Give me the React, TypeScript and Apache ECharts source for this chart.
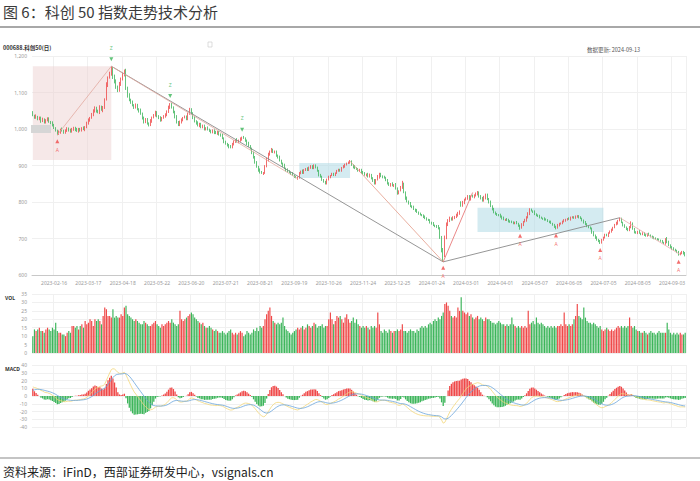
import React, { useEffect, useRef } from 'react';
import * as echarts from 'echarts';

const TITLE = '图 6：科创 50 指数走势技术分析';
const SOURCE = '资料来源：iFinD，西部证券研发中心，vsignals.cn';
const SYMBOL_NAME = '000688.科创50(日)';
const UPDATE_TEXT = '数据更新: 2024-09-13';

const START_DATE = '2023-01-30';
const HOLIDAYS = ['2023-04-05','2023-05-01','2023-05-02','2023-05-03','2023-06-22','2023-06-23','2023-09-29','2023-10-02','2023-10-03','2023-10-04','2023-10-05','2023-10-06','2024-01-01','2024-02-09','2024-02-12','2024-02-13','2024-02-14','2024-02-15','2024-02-16','2024-04-04','2024-04-05','2024-05-01','2024-05-02','2024-05-03','2024-06-10'];

const tickLabels = ['2023-02-16','2023-03-17','2023-04-18','2023-05-22','2023-06-20','2023-07-21','2023-08-21','2023-09-19','2023-10-26','2023-11-24','2023-12-25','2024-01-24','2024-03-01','2024-04-01','2024-05-07','2024-06-05','2024-07-05','2024-08-05','2024-09-03'];

const closes = [
1038,1032,1035,1028,1030,1022,1026,1019,1024,1028,
1021,1016,1010,1004,996,988,992,998,995,990,
996,1001,997,993,999,1003,998,994,1000,997,
1002,999,1006,1015,1025,1030,1038,1050,1057,1048,
1046,1060,1052,1057,1079,1120,1138,1152,1166,1142,
1130,1116,1108,1122,1136,1148,1158,1112,1092,1080,
1072,1066,1060,1064,1055,1050,1042,1030,1020,1025,
1016,1012,1022,1030,1038,1044,1036,1030,1025,1030,
1034,1038,1048,1058,1066,1060,1046,1033,1020,1012,
1018,1025,1030,1033,1028,1040,1052,1044,1030,1022,
1016,1010,1014,1005,1008,1000,1003,998,995,992,
996,990,988,992,986,984,975,965,960,956,
952,951,958,966,970,965,968,972,976,975,
968,960,954,948,936,923,910,898,888,884,
882,879,896,915,930,937,942,938,937,928,
922,915,906,900,893,888,884,882,878,874,
870,868,866,879,884,880,887,891,889,893,
898,894,899,896,886,874,870,862,856,852,
860,869,872,876,874,879,884,888,886,893,
898,901,906,908,910,902,896,893,890,886,
888,882,878,874,876,871,874,866,858,852,
860,868,876,872,868,866,860,852,847,850,
846,847,838,825,830,840,852,828,811,803,
796,790,786,781,777,773,769,766,764,760,
756,753,751,745,741,737,735,732,729,705,
672,652,700,738,748,756,752,757,759,764,
768,773,790,798,805,810,814,808,815,814,
818,822,825,816,810,805,812,819,808,800,
790,780,773,768,766,764,760,756,753,752,
751,748,746,745,743,744,742,736,729,738,
745,750,756,768,778,776,773,768,764,762,
758,756,754,752,751,748,745,742,738,733,
729,736,740,742,746,749,751,754,753,756,
758,757,759,761,757,756,750,745,740,735,
731,729,718,710,704,698,694,690,695,702,
710,708,714,718,724,730,737,742,748,753,
745,737,732,727,723,730,742,728,718,716,
719,715,712,714,710,708,712,710,706,703,
701,699,698,696,694,690,688,698,690,683,
677,673,670,668,664,658,660,663,659,655];

const opens = [
1045,1036,1030,1034,1027,1031,1021,1027,1018,1023,
1029,1020,1017,1011,1003,995,987,991,999,996,
989,995,1002,998,992,998,1004,999,993,1001,
996,1003,998,1005,1014,1024,1031,1037,1049,1058,
1049,1045,1061,1051,1058,1082,1118,1140,1150,1163,
1143,1131,1115,1106,1121,1137,1147,1155,1110,1093,
1079,1073,1065,1059,1065,1054,1051,1041,1031,1019,
1026,1015,1011,1021,1031,1037,1045,1035,1031,1024,
1031,1033,1039,1047,1057,1067,1059,1045,1034,1019,
1011,1019,1024,1031,1034,1027,1041,1053,1043,1031,
1021,1017,1009,1015,1004,1009,999,1004,997,996,
991,997,991,987,993,985,983,974,966,959,
957,953,950,957,965,971,964,967,971,977,
974,969,961,953,947,935,922,909,897,889,
883,878,880,897,914,929,938,943,936,938,
927,923,914,905,901,892,889,883,881,879,
873,869,865,867,880,885,879,888,892,888,
894,899,893,900,895,885,873,869,861,855,
851,861,868,873,877,873,880,885,889,885,
894,897,902,907,907,911,901,897,892,891,
885,889,881,879,873,877,870,875,865,859,
851,861,867,877,871,869,865,861,851,846,
851,845,848,837,824,831,839,850,827,812,
802,797,789,787,780,778,772,768,765,763,
761,755,752,750,744,742,736,734,733,728,
703,668,655,702,737,749,755,751,756,758,
763,767,796,791,797,806,809,815,807,816,
813,817,821,826,815,811,804,811,820,807,
801,789,781,772,767,765,765,761,757,751,
753,752,747,747,744,742,745,741,735,730,
737,746,749,757,767,779,775,774,767,763,
763,757,755,755,753,750,747,746,741,737,
732,730,735,741,741,747,748,752,755,752,
757,759,756,760,762,758,755,749,746,739,
734,730,728,717,709,703,697,693,689,696,
703,711,707,715,719,723,731,738,741,749,
754,744,736,731,726,722,731,741,727,717,
715,720,714,711,715,709,707,713,709,705,
704,700,699,697,695,693,689,687,699,691,
682,676,674,669,667,663,657,659,664,660];

const upperWick = [
4,3,5,2,4,3,5,2,3,4, 3,2,4,3,2,3,4,3,5,2, 3,4,2,3,4,3,2,4,3,2, 3,4,2,5,4,3,6,4,5,3,
4,5,3,6,5,8,6,5,6,7, 6,5,4,7,5,6,5,10,6,5, 4,5,3,6,4,3,5,4,3,5, 4,3,5,4,3,6,4,3,4,3,
4,5,3,6,5,4,3,5,4,3, 5,4,3,4,3,5,6,4,3,4, 3,4,3,2,4,3,2,3,4,2, 3,2,4,3,2,3,4,3,2,3,
2,3,4,3,2,4,3,5,3,4, 3,2,4,3,2,3,4,3,2,3, 2,3,5,6,5,4,6,3,4,3, 3,4,2,3,4,2,3,4,2,3,
2,3,4,3,2,4,3,2,3,4, 3,2,4,3,2,3,4,3,2,3, 4,3,2,4,3,2,4,3,2,3, 3,4,2,3,5,3,2,4,3,2,
3,2,4,3,2,3,4,2,3,4, 3,6,4,3,2,3,4,2,3,2, 3,2,4,3,2,4,6,3,2,3, 2,3,2,3,2,3,2,3,2,3,
2,3,2,3,2,3,2,3,4,3, 4,6,8,6,5,4,3,4,3,4, 5,4,6,5,4,3,5,4,3,4, 3,4,5,3,4,3,5,4,3,4,
3,2,3,2,3,2,3,2,3,2, 3,2,3,2,3,2,3,2,3,4, 3,4,5,4,5,3,2,3,2,3, 2,3,2,3,2,3,2,3,2,3,
3,4,3,2,3,4,3,2,3,4, 3,2,4,3,2,3,2,3,2,3, 2,3,2,3,2,3,2,3,4,3, 3,2,3,4,3,2,3,4,3,4,
3,2,3,2,3,4,5,3,2,3, 2,3,2,3,2,3,2,3,2,3, 2,3,2,3,2,3,2,3,5,3, 2,3,2,3,2,3,2,3,2,3];

const lowerWick = [
3,4,2,4,3,5,2,4,3,2, 4,3,3,4,3,5,3,4,2,3, 2,3,4,3,2,3,4,2,3,4, 3,2,4,3,2,4,3,2,4,3,
3,4,2,5,3,4,3,2,4,5, 5,6,7,4,3,4,3,5,6,4, 3,4,5,3,4,5,3,4,5,3, 4,5,3,4,2,3,4,3,5,3,
3,2,4,3,2,4,3,4,5,4, 3,4,3,2,4,3,2,4,3,4, 4,3,4,3,2,4,3,2,3,4, 3,4,2,3,4,5,3,4,3,4,
5,4,3,2,3,2,3,2,3,2, 3,4,3,4,5,4,5,4,5,6, 5,4,3,2,3,2,3,4,3,4, 3,4,3,4,3,4,3,3,4,3,
4,3,4,3,4,3,2,3,4,3, 3,4,3,4,3,4,3,4,3,4, 3,2,3,2,3,2,3,2,3,2, 2,3,2,3,2,3,4,3,2,3,
3,4,3,2,3,4,3,4,3,4, 3,2,3,4,3,2,3,4,3,4, 3,4,4,5,3,2,3,4,5,4, 3,4,3,3,4,3,4,3,3,4,
3,4,3,4,3,3,4,3,4,6, 10,16,6,4,3,4,3,2,3,2, 3,2,3,4,3,2,3,4,3,2, 3,2,3,4,3,4,3,4,3,4,
4,3,4,3,4,3,3,4,3,3, 3,4,3,3,4,3,3,4,5,3, 3,2,3,2,3,2,3,4,3,3, 3,2,3,3,2,3,3,2,3,4,
4,3,2,3,2,3,2,3,2,3, 2,3,2,3,2,3,3,4,3,4, 3,4,5,4,5,4,4,5,3,2, 3,2,3,2,3,2,3,2,3,2,
3,4,3,4,3,2,3,4,4,3, 3,2,3,2,3,3,2,3,3,3, 3,2,3,2,3,2,3,4,3,4, 3,4,3,3,4,5,3,2,3,4];

const volumes = [
10,14,13,14,15,13,13,12,14,15, 14,13,15,14,18,13,12,12,11,11, 10,12,13,12,16,16,15,16,14,16, 17,15,19,17,18,20,19,16,20,19,
20,19,17,22,27,26,22,22,21,26, 21,22,21,21,23,22,27,28,23,22, 21,20,19,20,19,18,17,17,19,18, 17,16,16,17,18,19,17,16,15,17,
16,17,18,19,18,20,18,17,16,17, 25,20,19,20,21,22,23,24,23,21, 20,19,18,17,18,16,15,15,16,15, 14,13,14,13,12,12,13,12,11,12,
13,14,12,11,12,11,12,13,12,10, 11,13,12,11,12,14,13,15,13,16, 15,16,20,23,25,27,22,19,18,17, 18,17,18,21,16,14,13,12,11,12,
13,14,15,14,15,16,14,15,17,16, 15,16,18,17,15,16,16,17,15,16, 16,20,24,20,17,19,22,21,22,20, 18,21,23,20,18,19,21,18,20,17,
16,15,16,15,16,15,14,16,15,16, 15,24,17,13,12,14,13,12,14,13, 12,13,13,14,13,14,17,13,13,12, 13,14,13,13,12,14,13,15,16,15,
16,15,17,18,17,19,20,19,21,20, 22,24,29,30,28,25,22,21,22,21, 27,25,33,25,24,23,24,22,23,21, 20,21,22,20,21,20,19,21,20,20,
19,18,18,17,18,19,18,17,17,16, 17,16,17,21,17,16,15,16,15,16, 15,16,15,25,17,18,19,17,21,18, 17,18,17,16,15,16,15,16,15,16,
15,16,16,17,16,24,17,16,17,16, 17,20,22,29,22,21,20,27,21,19, 18,18,17,18,17,16,15,16,14,13, 14,15,14,13,14,13,14,15,16,15,
16,15,16,15,16,21,16,15,16,14, 13,13,12,12,13,12,11,12,13,12, 12,11,12,13,12,12,12,12,18,14, 12,11,12,11,12,11,12,11,11,12];

// signal markers (indices into the trading-day list)
const lowSignalIdx = [15, 251, 298, 320, 347, 395];
const highSignalIdx = [48, 84, 128];

// trend / swing lines: [index, price]
const grayLineA = [[48, 1172], [251, 636]];
const grayLineB = [[251, 636], [359, 757]];
const swingUp1 = [[15, 984], [48, 1172]];
const swingDown1 = [[48, 1172], [162, 864]];
const swingDown2 = [[194, 912], [251, 636]];
const swingUp2 = [[251, 636], [269, 826]];
const swingDown3 = [[359, 757], [396, 656]];

// boxes: [startIdx, low, endIdx, high]
const pinkBox = [0, 915, 48, 1172];
const blueBox1 = [163, 866, 194, 907];
const blueBox2 = [272, 718, 349, 784];

// left-edge price tag level
const priceTagLevel = 1000;

// MACD seeds (state of the EMAs before the first plotted day)
const EMA12_SEED = 1030;
const EMA26_SEED = 1018;
const DEA_SEED = 6;

const RED = '#ef4848';
const GREEN = '#3cb55a';

function buildTradingDays(start: string, count: number, holidays: string[]) {
  const out: string[] = [];
  const d = new Date(start + 'T00:00:00Z');
  while (out.length < count) {
    const day = d.getUTCDay();
    const s = d.toISOString().slice(0, 10);
    if (day !== 0 && day !== 6 && holidays.indexOf(s) < 0) out.push(s);
    d.setUTCDate(d.getUTCDate() + 1);
  }
  return out;
}

export default function App() {
  const ref = useRef<HTMLDivElement>(null);
  useEffect(() => {
    const el = ref.current!;
    const chart = echarts.init(el, null, { renderer: 'svg', width: 700, height: 481 });
    const n = closes.length;
    const dates = buildTradingDays(START_DATE, n, HOLIDAYS);
    const highs = closes.map((c, i) => Math.max(c, opens[i]) + upperWick[i]);
    const lows = closes.map((c, i) => Math.min(c, opens[i]) - lowerWick[i]);
    const kData = closes.map((c, i) => [opens[i], c, lows[i], highs[i]]);
    const isUp = closes.map((c, i) => c >= opens[i]);
    const volData = volumes.map((v, i) => ({ value: v, itemStyle: { color: isUp[i] ? RED : GREEN } }));

    let e12 = EMA12_SEED, e26 = EMA26_SEED, dea = DEA_SEED;
    const difs: number[] = [], deas: number[] = [], hist: any[] = [];
    closes.forEach((c) => {
      e12 = e12 * 11 / 13 + c * 2 / 13;
      e26 = e26 * 25 / 27 + c * 2 / 27;
      const dif = e12 - e26;
      dea = dea * 0.8 + dif * 0.2;
      difs.push(+dif.toFixed(2));
      deas.push(+dea.toFixed(2));
      const h = 2 * (dif - dea);
      hist.push({ value: +h.toFixed(2), itemStyle: { color: h >= 0 ? RED : GREEN } });
    });

    const showTick = (_i: number, v: string) => tickLabels.indexOf(v) >= 0;
    const gridLine = { lineStyle: { color: '#f0f0f0', width: 1 } };
    const axisFont = { fontSize: 5, color: '#9a9a9a', fontFamily: 'Noto Sans' };

    const xBase = (gi: number, labels: boolean) => ({
      type: 'category', gridIndex: gi, data: dates, boundaryGap: true,
      axisLine: { show: labels, lineStyle: { color: '#c8c8c8' } },
      axisTick: { show: false },
      axisLabel: labels ? { ...axisFont, interval: showTick, margin: 5 } : { show: false },
      splitLine: { show: true, interval: showTick, ...gridLine },
    });
    const yBase = (gi: number, min: number, max: number, interval: number, fmt?: any) => ({
      type: 'value', gridIndex: gi, min, max, interval, scale: false,
      axisLine: { show: false }, axisTick: { show: false },
      axisLabel: { ...axisFont, margin: 5, formatter: fmt },
      splitLine: { show: true, ...gridLine },
    });

    const pt = (a: number[]) => [dates[a[0]], a[1]];
    const lineSeries = (pts: number[][], color: string, width = 0.8) => ({
      type: 'line', xAxisIndex: 0, yAxisIndex: 0, data: pts.map(pt), symbol: 'none',
      lineStyle: { color, width }, silent: true, z: 4,
    });
    const box = (b: number[], color: string) => [
      { xAxis: dates[b[0]], yAxis: b[1], itemStyle: { color } },
      { xAxis: dates[b[2]], yAxis: b[3] },
    ];

    const option: any = {
      animation: false,
      backgroundColor: '#ffffff',
      textStyle: { fontFamily: 'Noto Sans' },
      grid: [
        { left: 32, right: 14, top: 56, height: 219 },
        { left: 32, right: 14, top: 294, height: 59 },
        { left: 32, right: 14, top: 365, height: 62 },
      ],
      xAxis: [xBase(0, true), xBase(1, false), xBase(2, false)],
      yAxis: [
        yBase(0, 600, 1200, 100, (v: number) => v.toLocaleString('en-US')),
        yBase(1, 0, 35, 5),
        yBase(2, -40, 40, 10),
      ],
      series: [
        {
          type: 'candlestick', xAxisIndex: 0, yAxisIndex: 0, data: kData, barWidth: '72%',
          itemStyle: { color: RED, color0: GREEN, borderColor: RED, borderColor0: GREEN, borderWidth: 0.8 },
          markArea: {
            silent: true,
            data: [box(pinkBox, 'rgba(236,204,204,0.45)'), box(blueBox1, 'rgba(170,215,228,0.5)'), box(blueBox2, 'rgba(170,215,228,0.5)')],
          },
          markPoint: {
            silent: true,
            data: [{ coord: [dates[5], priceTagLevel], symbol: 'rect', symbolSize: [20, 8], itemStyle: { color: '#d6d6d6' }, label: { show: false } }],
          },
          z: 3,
        },
        lineSeries(grayLineA, '#8a8a8a', 0.9),
        lineSeries(grayLineB, '#8a8a8a', 0.9),
        lineSeries(swingUp1, '#e2aaa0'),
        lineSeries(swingDown1, '#e2aaa0'),
        lineSeries(swingDown2, '#e39a88'),
        lineSeries(swingUp2, '#e56a6a'),
        lineSeries(swingDown3, '#e8a8a8'),
        {
          type: 'scatter', xAxisIndex: 0, yAxisIndex: 0, silent: true, z: 6,
          data: lowSignalIdx.map((i) => [dates[i], lows[i]]),
          symbol: 'triangle', symbolSize: [4, 4], symbolOffset: [0, 6],
          itemStyle: { color: RED },
          label: { show: true, position: 'bottom', distance: 0, offset: [0, 4], formatter: 'A', fontSize: 5, color: RED },
        },
        {
          type: 'scatter', xAxisIndex: 0, yAxisIndex: 0, silent: true, z: 6,
          data: highSignalIdx.map((i) => [dates[i], highs[i]]),
          symbol: 'triangle', symbolRotate: 180, symbolSize: [4, 4], symbolOffset: [0, -7],
          itemStyle: { color: GREEN },
          label: { show: true, position: 'top', distance: 0, offset: [0, -7], formatter: 'Z', fontSize: 5, color: GREEN },
        },
        { type: 'bar', xAxisIndex: 1, yAxisIndex: 1, data: volData, barWidth: '72%', silent: true },
        { type: 'bar', xAxisIndex: 2, yAxisIndex: 2, data: hist, barWidth: '80%', silent: true },
        { type: 'line', xAxisIndex: 2, yAxisIndex: 2, data: difs, symbol: 'none', lineStyle: { color: '#f3d77a', width: 0.8 }, silent: true },
        { type: 'line', xAxisIndex: 2, yAxisIndex: 2, data: deas, symbol: 'none', lineStyle: { color: '#6aa5dc', width: 0.8 }, silent: true },
      ],
      graphic: [
        { type: 'text', left: 3, top: 4, style: { text: TITLE, fontSize: 15, fill: '#3a3a3a', fontFamily: 'Noto Sans CJK SC' } },
        { type: 'line', shape: { x1: 0, y1: 27, x2: 700, y2: 27 }, style: { stroke: '#a8a8a8', lineWidth: 2 } },
        { type: 'text', left: 3, top: 45, style: { text: SYMBOL_NAME, fontSize: 5.5, fontWeight: 'bold', fill: '#333', fontFamily: 'Noto Sans CJK SC' } },
        { type: 'text', left: 587, top: 47, style: { text: UPDATE_TEXT, fontSize: 5.5, fill: '#555', fontFamily: 'Noto Sans CJK SC' } },
        { type: 'rect', shape: { x: 208, y: 42, width: 4, height: 5 }, style: { fill: 'none', stroke: '#c8c8c8', lineWidth: 0.6 } },
        { type: 'text', left: 5, top: 295, style: { text: 'VOL', fontSize: 5, fontWeight: 'bold', fill: '#333', fontFamily: 'Noto Sans' } },
        { type: 'text', left: 5, top: 366, style: { text: 'MACD', fontSize: 5, fontWeight: 'bold', fill: '#333', fontFamily: 'Noto Sans' } },
        { type: 'line', shape: { x1: 0, y1: 458, x2: 700, y2: 458 }, style: { stroke: '#8a8a8a', lineWidth: 1.2 } },
        { type: 'text', left: 3, top: 465, style: { text: SOURCE, fontSize: 12, fill: '#222', fontFamily: 'Noto Sans CJK SC' } },
      ],
    };
    chart.setOption(option);
    return () => chart.dispose();
  }, []);
  return <div ref={ref} style={{ position: 'fixed', left: 0, top: 0, width: 700, height: 481, background: '#fff' }} />;
}
